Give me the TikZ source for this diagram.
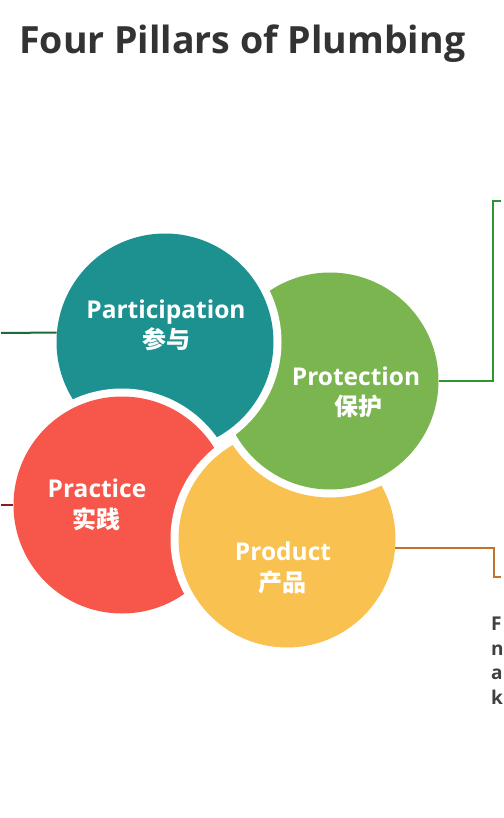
\documentclass[tikz,border=0pt]{standalone}
\usepackage{fontspec}
\setmainfont{Open Sans}
\newfontfamily\cjk{Noto Sans CJK SC}
\usetikzlibrary{positioning}
\definecolor{tealc}{HTML}{1D9190}
\definecolor{greenc}{HTML}{7AB550}
\definecolor{redc}{HTML}{F7574A}
\definecolor{yellowc}{HTML}{F9C14F}
\definecolor{titlegrey}{HTML}{333333}
\definecolor{notegrey}{HTML}{404040}
\definecolor{partline}{HTML}{1E6B3A}
\definecolor{pracline}{HTML}{8E1B1B}
\definecolor{protline}{HTML}{2E962E}
\definecolor{prodline}{HTML}{C2722C}

\begin{document}
\begin{tikzpicture}[
x=1pt, y=-1pt,
pillar/.style={
circle,
fill=#1,
minimum size=217pt,
inner sep=0pt
},
gap/.style={
circle,
fill=white,
minimum size=233pt,
inner sep=0pt
},
pname/.style={
text=white,
font=\fontsize{24.5}{30}\selectfont\bfseries,
inner sep=0pt,
anchor=base
},
pcn/.style={
text=white,
font=\cjk\fontsize{24}{28}\selectfont\bfseries,
inner sep=0pt,
anchor=base
},
link/.style={line width=2pt}
]

\fill[white] (0,0) rectangle (500,818);

\node[anchor=base west, inner sep=0pt, text=titlegrey,
font=\fontsize{37.5}{45}\selectfont\bfseries] (title) at (18,54)
{Four Pillars of Plumbing};

% the four circles, each one lying over the next
\node[pillar=greenc] (prot) at (329,381) {};
\node[gap] (partgap) at (164,342) {};
\node[pillar=tealc] (part) at (164,342) {};
\node[gap] (pracgap) at (121,505) {};
\node[pillar=redc] (prac) at (121,505) {};
\begin{scope}[even odd rule]
\clip (0,0) rectangle (500,818) (329,381) circle (116.5);
\node[gap] (prodgap) at (286,539) {};
\node[pillar=yellowc] (prod) at (286,539) {};
\end{scope}

\node[pname] (partname) at (165,318) {Participation};
\node[pcn] (partcn) at (165,348) {参与};
\node[pname] (protname) at (355,385) {Protection};
\node[pcn] (protcn) at (357,415) {保护};
\node[pname] (pracname) at (96,497) {Practice};
\node[pcn] (praccn) at (95,528) {实践};
\node[pname] (prodname) at (282,560) {Product};
\node[pcn] (prodcn) at (281,591) {产品};

\coordinate (partend) at (0,333);
\coordinate (pracend) at (0,505);
\coordinate (protend) at (500,201);
\coordinate (prodend) at (500,577);

\draw[link, partline] (part.175) -- (partend);
\draw[link, pracline] (prac.west) -- (pracend);
\draw[link, protline] (prot.east) -- ++(54,0) |- (protend);
\draw[link, prodline] (prod.-5) -- ++(99,0) |- (prodend);

\node[anchor=north west, inner sep=0pt, align=left, text=notegrey,
font=\fontsize{19}{24.5}\selectfont\bfseries] (note) at (490,617)
{F\\n\\a\\k};

\end{tikzpicture}
\end{document}
